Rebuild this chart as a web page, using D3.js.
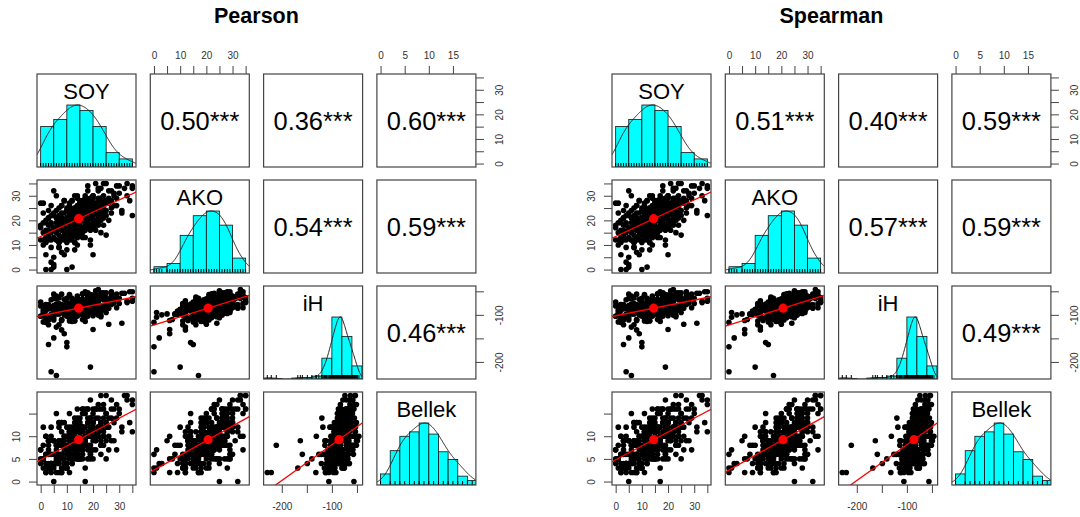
<!DOCTYPE html>
<html>
<head>
<meta charset="utf-8">
<script src="https://cdn.jsdelivr.net/npm/d3@7"></script>
<style>
  body { margin: 0; background: #fff; }
  svg { font-family: "Liberation Sans", Arial, Helvetica, sans-serif; }
</style>
</head>
<body>
<div id="chart"></div>
<script>
// Observations (one entry per student), estimated from the scatter panels
const soy = [
  0, 0, 0, 1, 1, 1, 1, 2, 2, 2, 2, 3, 3, 3, 3, 3, 4, 4, 4, 4, 5, 5, 5, 5,
  6, 6, 6, 6, 6, 7, 7, 7, 7, 7, 7, 8, 8, 8, 8, 8, 9, 9, 9, 9, 9, 9, 10, 10, 10, 10, 10, 10,
  11, 11, 11, 11, 11, 11, 11, 11, 11, 12, 12, 12, 12, 12, 12, 12, 12,
  13, 13, 13, 13, 13, 13, 13, 13, 13, 14, 14, 14, 14, 14, 14, 14, 14, 14,
  15, 15, 15, 15, 15, 15, 15, 15, 15, 16, 16, 16, 16, 16, 16, 16, 16, 16,
  17, 17, 17, 17, 17, 17, 17, 17, 17, 18, 18, 18, 18, 18, 18, 18, 18,
  19, 19, 19, 19, 19, 19, 19, 20, 20, 20, 20, 20, 20, 20,
  21, 21, 21, 21, 21, 21, 21, 22, 22, 22, 22, 22, 22, 22,
  23, 23, 23, 23, 23, 23, 24, 24, 24, 24, 24, 25, 25, 25, 25, 25,
  26, 26, 27, 27, 27, 28, 28, 29, 29, 30, 32, 33, 34, 35, 35,
  0, 1, 1, 2, 2, 3, 3, 3, 4, 4, 4, 5, 5, 5, 2,
  6, 6, 6, 7, 7, 7, 7, 8, 8, 8, 8, 9, 9, 9, 10, 10, 10, 10,
  11, 11, 11, 11, 11, 12, 12, 12, 12, 12, 13, 13, 13, 13, 14, 14, 14, 14, 14, 15, 15, 15, 15,
  16, 16, 16, 16, 16, 17, 17, 17, 17, 18, 18, 18, 18, 19, 19, 19, 19, 20, 20, 20, 20,
  21, 21, 21, 22, 22, 22, 22, 23, 23, 23, 24, 24, 24, 25, 25,
  26, 27, 28, 29, 30, 31, 33, 35,
  6, 4, 19, 10, 3, 10, 5, 9, 20, 8, 26, 31, 2, 5, 4, 12, 8, 13, 7
];
const ako = [
  27, 18, 12, 27, 15, 10, 19, 12, 16, 20, 11, 14, 18, 21, 13, 24, 15, 19, 22, 12, 17, 32, 23, 16,
  30, 15, 19, 12, 21, 18, 14, 22, 20, 11, 25, 17, 21, 13, 26, 19, 16, 23, 20, 12, 28, 18, 19, 15, 24, 21, 11, 17,
  22, 18, 14, 25, 20, 16, 27, 12, 21, 20, 24, 17, 13, 22, 28, 19, 15,
  21, 18, 25, 14, 23, 19, 30, 16, 11, 22, 26, 18, 15, 20, 24, 29, 13, 21,
  23, 19, 27, 16, 21, 25, 28, 14, 22, 24, 20, 28, 17, 22, 26, 25, 15, 23,
  25, 21, 18, 29, 23, 25, 27, 20, 24, 24, 20, 28, 17, 26, 22, 34, 19,
  25, 21, 29, 18, 27, 23, 28, 26, 22, 30, 19, 24, 29, 17,
  27, 23, 26, 20, 25, 35, 18, 28, 24, 29, 21, 26, 33, 19,
  29, 25, 33, 22, 27, 20, 30, 26, 25, 23, 28, 28, 27, 35, 24, 22,
  29, 27, 28, 32, 25, 30, 26, 34, 29, 31, 33, 35, 28, 33, 34,
  17, 12, 23, 13, 6, 21, 16, 12, 26, 9, 18, 5, 22, 13, 19,
  16, 24, 12, 18, 9, 20, 11, 26, 16, 13, 23, 18, 14, 28, 12, 21, 8, 25,
  16, 23, 18, 26, 14, 21, 12, 23, 14, 28, 18, 11, 25, 20, 16, 30, 13, 22, 10, 27, 18, 25, 20,
  28, 16, 22, 13, 24, 16, 30, 20, 13, 27, 22, 18, 32, 16, 25, 12, 29, 20, 27, 22, 30,
  19, 25, 16, 27, 18, 32, 22, 15, 29, 24, 21, 35, 18, 27, 14,
  32, 23, 31, 26, 34, 23, 30, 22,
  17, 0, 10, 0, 15, 14, 2, 6, 6, 12, 20, 24, 0, 1, 3, 1, 7, 8, 9
];
const ih = [
  -73, -103, -81, -81, -115, -93, -89, -106, -79, -102, -78, -105, -87, -111, -86, -82, -87, -105, -68, -103, -65, -56, -80, -111,
  -60, -98, -80, -126, -66, -97, -91, -96, -76, -121, -64, -92, -78, -112, -56, -93, -86, -93, -67, -100, -94, -79, -87, -99, -65, -99, -76, -99,
  -79, -113, -83, -79, -78, -108, -59, -101, -57, -96, -77, -108, -83, -86, -65, -114, -73,
  -91, -83, -90, -83, -102, -71, -72, -84, -113, -60, -81, -82, -103, -66, -81, -91, -85, -83,
  -86, -71, -89, -68, -91, -74, -97, -81, -82, -71, -101, -56, -93, -55, -86, -74, -110, -67,
  -80, -74, -114, -51, -87, -106, -86, -73, -99, -62, -85, -65, -103, -53, -86, -58, -96,
  -58, -84, -90, -77, -73, -85, -57, -89, -58, -77, -81, -102, -59, -88,
  -65, -95, -58, -87, -49, -72, -83, -89, -64, -73, -72, -101, -46, -91,
  -65, -87, -53, -101, -57, -84, -61, -89, -53, -83, -65, -82, -53, -63, -95, -69,
  -68, -78, -55, -78, -51, -75, -69, -85, -56, -65, -54, -74, -51, -65, -51,
  -103, -97, -102, -85, -112, -78, -121, -80, -86, -99, -103, -98, -106, -82, -91,
  -86, -97, -77, -95, -97, -98, -81, -80, -111, -86, -81, -95, -80, -89, -75, -93, -99, -103,
  -80, -82, -81, -93, -77, -88, -70, -91, -91, -92, -75, -101, -69, -112, -71, -78, -90, -94, -88, -96, -72, -79, -78,
  -88, -68, -87, -89, -90, -71, -72, -103, -84, -73, -87, -72, -81, -67, -85, -91, -95, -71, -73, -73, -85,
  -68, -80, -62, -83, -83, -84, -67, -93, -61, -104, -61, -68, -80, -84, -80,
  -86, -61, -66, -65, -76, -54, -71, -71,
  -229, -221, -211, -168, -163, -159, -149, -140, -131, -132, -120, -118, -116, -95, -100, -105, -110, -98, -92
];
const bellek = [
  5, 7, 4, 12, 3, 5, 8, 2, 6, 10, 3, 4, 9, 3, 8, 9, 4, 6, 12, 4, 4, 0, 9, 4,
  15, 5, 7, 6, 4, 9, 6, 5, 13, 4, 12, 2, 9, 6, 8, 13, 4, 10, 8, 10, 3, 9, 10, 4, 10, 12, 3, 6,
  12, 2, 10, 11, 7, 7, 15, 5, 6, 10, 11, 5, 12, 8, 11, 8, 4,
  11, 8, 7, 13, 8, 12, 6, 9, 6, 8, 16, 6, 9, 8, 14, 5, 9, 11,
  7, 9, 14, 5, 8, 13, 5, 11, 11, 8, 9, 16, 7, 8, 12, 12, 6, 15,
  10, 10, 9, 8, 12, 0, 8, 15, 9, 14, 5, 13, 8, 10, 16, 10, 11,
  18, 14, 5, 11, 14, 7, 12, 15, 7, 11, 13, 5, 16, 10,
  10, 10, 16, 9, 9, 16, 11, 10, 17, 12, 11, 12, 10, 12,
  13, 8, 19, 9, 16, 6, 14, 12, 11, 17, 10, 15, 12, 19, 5, 13,
  7, 10, 14, 18, 9, 13, 16, 7, 17, 16, 19, 19, 13, 18, 17,
  7, 5, 5, 10, 2, 7, 6, 3, 10, 4, 3, 9, 6, 9, 4,
  8, 8, 4, 13, 2, 9, 5, 13, 3, 6, 11, 4, 7, 13, 3, 7, 8, 4,
  11, 10, 6, 9, 11, 8, 4, 11, 8, 8, 14, 5, 10, 9, 5, 13, 7, 6, 12, 9, 12, 5, 10,
  11, 7, 16, 5, 12, 8, 16, 3, 9, 13, 7, 10, 16, 6, 10, 11, 6, 13, 13, 9, 12,
  14, 10, 7, 14, 11, 11, 16, 8, 13, 12, 8, 16, 10, 9, 15,
  12, 16, 9, 14, 15, 11, 18, 11,
  2, 2, 8, 3, 9, 6, 4, 5, 10, 2, 14, 12, 6, 3, 4, 7, 5, 6, 8
];

const varNames = ["SOY", "AKO", "iH", "Bellek"];

// correlations of the upper panels: SOY-AKO, SOY-iH, SOY-Bellek, AKO-iH, AKO-Bellek, iH-Bellek
const pearsonR = [0.50, 0.36, 0.60, 0.54, 0.59, 0.46];
const spearmanR = [0.51, 0.40, 0.59, 0.57, 0.59, 0.49];
const stars = "***";

// histogram breaks
const soyBreaks = [0, 5, 10, 15, 20, 25, 30, 35];
const akoBreaks = [0, 5, 10, 15, 20, 25, 30, 35];
const ihBreaks = [-240, -220, -200, -180, -160, -140, -120, -100, -80, -60, -40];
const bellekBreaks = [0, 2, 4, 6, 8, 10, 12, 14, 16, 18, 20];

// axis ticks and the labels R kept
const soyTicks = [0, 5, 10, 15, 20, 25, 30, 35];
const soyTickLabels = [0, 10, 20, 30];
const akoTicks = [0, 5, 10, 15, 20, 25, 30, 35];
const akoTickLabels = [0, 10, 20, 30];
const ihTicks = [-200, -150, -100, -50];
const ihTickLabels = [-200, -100];
const bellekTicks = [0, 5, 10, 15];
const bellekTopLabels = [0, 5, 10, 15];
const bellekLeftLabels = [0, 5, 10];

const vars = [soy, ako, ih, bellek];
const breaks = [soyBreaks, akoBreaks, ihBreaks, bellekBreaks];

const width = 1080, height = 517;
const panelW = 99, panelH = 93, gapX = 14.3, gapY = 13;
const top0 = 74;

const svg = d3.select("#chart").append("svg")
    .attr("width", width)
    .attr("height", height);

// R extends the data range by 4% on each side
function padDomain(v) {
    const [lo, hi] = d3.extent(v);
    const r = hi - lo;
    return [lo - 0.04 * r, hi + 0.04 * r];
}

// Gaussian kernel density, bw = nrd * 1.2 (as in psych::pairs.panels)
function density(v) {
    const n = v.length;
    const sd = d3.deviation(v);
    const iqr = d3.quantile(v, 0.75) - d3.quantile(v, 0.25);
    const bw = 1.2 * 1.06 * Math.min(sd, iqr / 1.34) * Math.pow(n, -0.2);
    const [lo, hi] = d3.extent(v);
    const a = lo - 3 * bw, b = hi + 3 * bw;
    const pts = [];
    for (let k = 0; k <= 300; k++) {
        const x = a + (b - a) * k / 300;
        let s = 0;
        v.forEach(d => { const z = (x - d) / bw; s += Math.exp(-0.5 * z * z); });
        pts.push([x, s]);
    }
    const m = d3.max(pts, d => d[1]);
    return pts.map(d => [d[0], d[1] / m]);
}

// counts with right-closed bins, first bin includes the lowest value
function histCounts(v, br) {
    const counts = br.slice(1).map(() => 0);
    v.forEach(d => {
        for (let k = 0; k < counts.length; k++) {
            if ((k === 0 && d >= br[0] && d <= br[1]) || (d > br[k] && d <= br[k + 1])) {
                counts[k]++;
                break;
            }
        }
    });
    return counts;
}

function drawHist(g, j, x, left, top) {
    const y = d3.scaleLinear().domain([0, 1.5]).range([top + panelH, top]);
    const counts = histCounts(vars[j], breaks[j]);
    const maxC = d3.max(counts);
    const br = breaks[j];

    g.selectAll("rect.bar")
        .data(counts)
        .enter()
        .append("rect")
        .attr("x", (d, k) => x(br[k]))
        .attr("y", d => y(d / maxC))
        .attr("width", (d, k) => x(br[k + 1]) - x(br[k]))
        .attr("height", d => y(0) - y(d / maxC))
        .attr("fill", "#00ffff")
        .attr("stroke", "#111")
        .attr("stroke-width", 0.8);

    g.append("path")
        .datum(density(vars[j]))
        .attr("d", d3.line().x(d => x(d[0])).y(d => y(d[1])))
        .attr("fill", "none")
        .attr("stroke", "#222")
        .attr("stroke-width", 1);

    // rug
    g.selectAll("line.rug")
        .data(Array.from(new Set(vars[j])))
        .enter()
        .append("line")
        .attr("x1", d => x(d))
        .attr("x2", d => x(d))
        .attr("y1", top + panelH)
        .attr("y2", top + panelH - 4)
        .attr("stroke", "#000")
        .attr("stroke-width", 1);

    g.append("text")
        .attr("x", left + panelW / 2)
        .attr("y", top + 25)
        .attr("text-anchor", "middle")
        .attr("font-size", 22)
        .text(varNames[j]);
}

function drawScatter(g, i, j, x, y) {
    const xs = vars[j], ys = vars[i];
    const pts = xs.map((d, k) => [d, ys[k]]);

    g.selectAll("circle.pt")
        .data(pts)
        .enter()
        .append("circle")
        .attr("cx", d => x(d[0]))
        .attr("cy", d => y(d[1]))
        .attr("r", 2.8)
        .attr("fill", "#000");

    // least squares line
    const mx = d3.mean(xs), my = d3.mean(ys);
    let sxy = 0, sxx = 0;
    xs.forEach((d, k) => { sxy += (d - mx) * (ys[k] - my); sxx += (d - mx) * (d - mx); });
    const b = sxy / sxx, a = my - b * mx;
    const [d0, d1] = x.domain();
    g.append("line")
        .attr("x1", x(d0)).attr("y1", y(a + b * d0))
        .attr("x2", x(d1)).attr("y2", y(a + b * d1))
        .attr("stroke", "#ff0000")
        .attr("stroke-width", 1.3);

    g.append("circle")
        .attr("cx", x(mx))
        .attr("cy", y(my))
        .attr("r", 4.6)
        .attr("fill", "#ff0000");
}

function drawCor(g, r, left, top) {
    const t = g.append("text")
        .attr("x", left + panelW / 2)
        .attr("text-anchor", "middle")
        .attr("font-size", 25)
        .text(r.toFixed(2) + stars);
    const len = t.node().getComputedTextLength();
    const fs = 25 * 0.8 * panelW / len;
    t.attr("font-size", fs).attr("y", top + panelH / 2 + 0.37 * fs);
}

function addAxis(g, axis, tx, ty, rotated, offset) {
    const a = g.append("g")
        .attr("transform", `translate(${tx},${ty})`)
        .attr("font-size", 11)
        .attr("font-family", "Liberation Sans, Arial, sans-serif")
        .call(axis);
    a.select(".domain").remove();
    a.selectAll(".tick line").attr("stroke", "#444");
    a.selectAll(".tick text").attr("fill", "#333");
    if (rotated) {
        a.selectAll(".tick text")
            .attr("x", null)
            .attr("dy", "0.35em")
            .attr("text-anchor", "middle")
            .attr("transform", `translate(${offset},0) rotate(-90)`);
    }
}

function labelFmt(labels) {
    return d => labels.includes(d) ? d : "";
}

function drawMatrix(x0, title, rValues) {
    const g = svg.append("g");
    const colLeft = j => x0 + j * (panelW + gapX);
    const rowTop = i => top0 + i * (panelH + gapY);

    g.append("text")
        .attr("x", x0 + (4 * panelW + 3 * gapX) / 2)
        .attr("y", 23)
        .attr("text-anchor", "middle")
        .attr("font-weight", "bold")
        .attr("font-size", 21.5)
        .text(title);

    const xScales = vars.map((v, j) => d3.scaleLinear().domain(padDomain(v)).range([colLeft(j), colLeft(j) + panelW]));
    const yScales = vars.map((v, i) => d3.scaleLinear().domain(padDomain(v)).range([rowTop(i) + panelH, rowTop(i)]));

    let rIndex = 0;
    for (let i = 0; i < 4; i++) {
        for (let j = 0; j < 4; j++) {
            const left = colLeft(j), top = rowTop(i);
            const id = `clip-${Math.round(x0)}-${i}-${j}`;
            g.append("clipPath").attr("id", id)
                .append("rect")
                .attr("x", left).attr("y", top)
                .attr("width", panelW).attr("height", panelH);
            const p = g.append("g").attr("clip-path", `url(#${id})`);

            if (i === j) drawHist(p, j, xScales[j], left, top);
            else if (i > j) drawScatter(p, i, j, xScales[j], yScales[i]);
            else drawCor(p, rValues[rIndex++], left, top);

            g.append("rect")
                .attr("x", left).attr("y", top)
                .attr("width", panelW).attr("height", panelH)
                .attr("fill", "none")
                .attr("stroke", "#444")
                .attr("stroke-width", 1.2);
        }
    }

    // axes alternate around the matrix like R pairs()
    addAxis(g, d3.axisTop(xScales[1]).tickValues(akoTicks).tickSize(8).tickPadding(7).tickFormat(labelFmt(akoTickLabels)), 0, rowTop(0));
    addAxis(g, d3.axisTop(xScales[3]).tickValues(bellekTicks).tickSize(8).tickPadding(7).tickFormat(labelFmt(bellekTopLabels)), 0, rowTop(0));
    addAxis(g, d3.axisBottom(xScales[0]).tickValues(soyTicks).tickSize(8).tickPadding(10).tickFormat(labelFmt(soyTickLabels)), 0, rowTop(3) + panelH);
    addAxis(g, d3.axisBottom(xScales[2]).tickValues(ihTicks).tickSize(8).tickPadding(10).tickFormat(labelFmt(ihTickLabels)), 0, rowTop(3) + panelH);
    addAxis(g, d3.axisLeft(yScales[1]).tickValues(akoTicks).tickSize(8).tickFormat(labelFmt(akoTickLabels)), colLeft(0), 0, true, -21);
    addAxis(g, d3.axisLeft(yScales[3]).tickValues(bellekTicks).tickSize(8).tickFormat(labelFmt(bellekLeftLabels)), colLeft(0), 0, true, -21);
    addAxis(g, d3.axisRight(yScales[0]).tickValues(soyTicks).tickSize(8).tickFormat(labelFmt(soyTickLabels)), colLeft(3) + panelW, 0, true, 23.5);
    addAxis(g, d3.axisRight(yScales[2]).tickValues(ihTicks).tickSize(8).tickFormat(labelFmt(ihTickLabels)), colLeft(3) + panelW, 0, true, 23.5);
}

drawMatrix(37, "Pearson", pearsonR);
drawMatrix(612, "Spearman", spearmanR);
</script>
</body>
</html>
